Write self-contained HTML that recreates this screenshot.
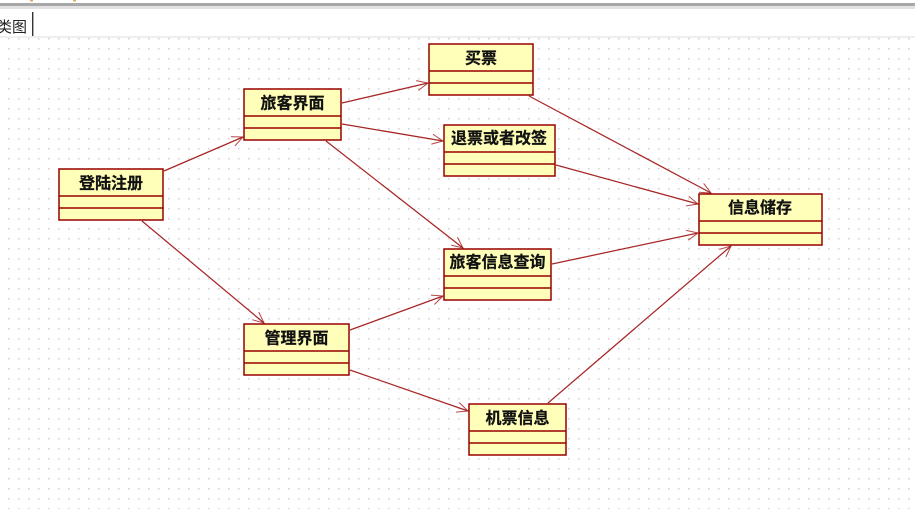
<!DOCTYPE html>
<html><head><meta charset="utf-8">
<style>
html,body{margin:0;padding:0;background:#fff;width:915px;height:509px;overflow:hidden}
svg{display:block}
.c{fill:#ffffb9;stroke:#990000;stroke-width:1.5}
.d{stroke:#990000;stroke-width:1.4}
.l{stroke:#990000;stroke-width:1.25;fill:none;opacity:.85}
.a{stroke:#990000;stroke-width:1;fill:none;opacity:.85}
.t{font:bold 16px "Noto Sans CJK SC","WenQuanYi Zen Hei",sans-serif;text-anchor:middle;fill:#111;stroke:#111;stroke-width:.25}
</style></head><body>
<svg width="915" height="509" viewBox="0 0 915 509" xmlns="http://www.w3.org/2000/svg">
<defs>
<pattern id="g" x="8" y="8" width="10" height="10" patternUnits="userSpaceOnUse"><rect width="1.5" height="1.5" fill="#d0d0d0"/></pattern>
<marker id="m" markerWidth="14" markerHeight="12" refX="12" refY="6" orient="auto" markerUnits="userSpaceOnUse"><path d="M1,1 L12,6 L1,11" class="a"/></marker>
</defs>
<rect width="915" height="509" fill="#fff"/>
<rect y="38" width="915" height="471" fill="url(#g)"/>
<rect y="3" width="915" height="3" fill="#a8a8a8"/>
<rect y="6" width="915" height="3" fill="#e2e2e2"/>
<rect x="30" y="0" width="3" height="1.500" fill="#e0a860"/>
<rect x="73" y="0" width="3" height="1.500" fill="#e0a860"/>
<rect y="36" width="915" height="2" fill="#efefef"/>
<rect x="32" y="12" width="1.4" height="24" fill="#333"/>
<text x="-3" y="32" style="font:15px 'Noto Sans CJK SC','WenQuanYi Zen Hei',sans-serif" fill="#222">类图</text>

<g class="l">
<line x1="164" y1="171" x2="243" y2="137" marker-end="url(#m)"/>
<line x1="142" y1="221" x2="264" y2="323" marker-end="url(#m)"/>
<line x1="342" y1="103" x2="428" y2="83" marker-end="url(#m)"/>
<line x1="342" y1="124" x2="443" y2="141" marker-end="url(#m)"/>
<line x1="326" y1="141" x2="463" y2="248" marker-end="url(#m)"/>
<line x1="529" y1="96" x2="711" y2="193" marker-end="url(#m)"/>
<line x1="556" y1="165" x2="698" y2="204" marker-end="url(#m)"/>
<line x1="552" y1="264" x2="698" y2="233" marker-end="url(#m)"/>
<line x1="350" y1="330" x2="443" y2="296" marker-end="url(#m)"/>
<line x1="350" y1="370" x2="468" y2="411" marker-end="url(#m)"/>
<line x1="548" y1="403" x2="731" y2="246" marker-end="url(#m)"/>
</g>

<rect class="c" x="59" y="169" width="104" height="51"/><path class="d" d="M59 196H163M59 208H163"/>
<text class="t" x="111" y="188.500">登陆注册</text>
<rect class="c" x="244" y="89" width="97" height="51"/><path class="d" d="M244 116H341M244 128H341"/>
<text class="t" x="292.500" y="108.500">旅客界面</text>
<rect class="c" x="429" y="44" width="104" height="51"/><path class="d" d="M429 71H533M429 83H533"/>
<text class="t" x="481" y="63.500">买票</text>
<rect class="c" x="444" y="125" width="111" height="51"/><path class="d" d="M444 152H555M444 164H555"/>
<text class="t" x="499" y="143.500">退票或者改签</text>
<rect class="c" x="699" y="194" width="123" height="51"/><path class="d" d="M699 221H822M699 233H822"/>
<text class="t" x="760" y="213">信息储存</text>
<rect class="c" x="444" y="249" width="107" height="51"/><path class="d" d="M444 276H551M444 288H551"/>
<text class="t" x="497.500" y="267.500">旅客信息查询</text>
<rect class="c" x="244" y="324" width="105" height="51"/><path class="d" d="M244 351H349M244 363H349"/>
<text class="t" x="296.500" y="343.500">管理界面</text>
<rect class="c" x="469" y="404" width="97" height="51"/><path class="d" d="M469 431H566M469 443H566"/>
<text class="t" x="517.500" y="423.500">机票信息</text>
</svg>
</body></html>
